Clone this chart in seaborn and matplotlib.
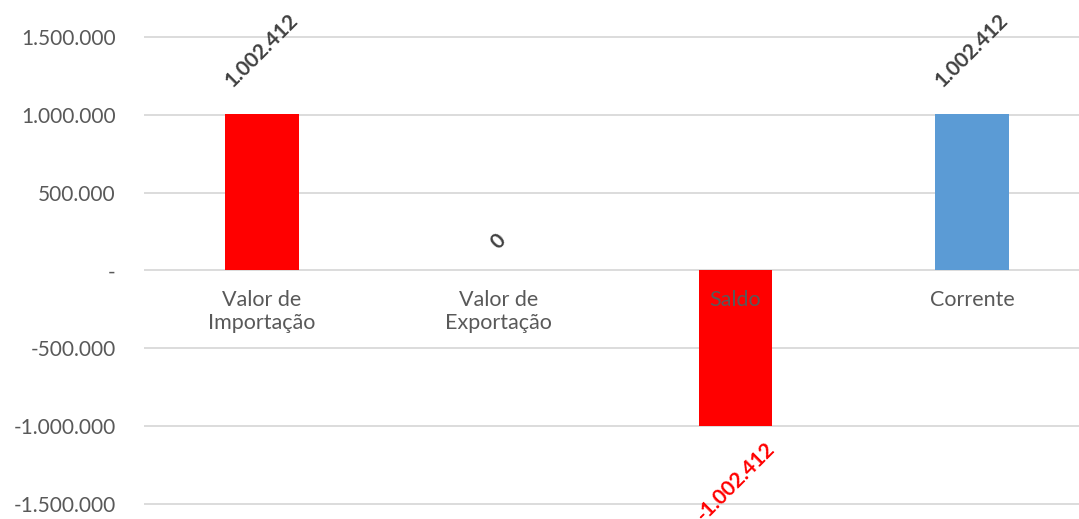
import numpy as np
import matplotlib.pyplot as plt
import seaborn as sns
from matplotlib.ticker import FuncFormatter

categorias = ['Valor de\nImportação', 'Valor de\nExportação', 'Saldo', 'Corrente']
valores = [1002412, 0, -1002412, 1002412]
cores = ['#FF0000', '#FF0000', '#FF0000', '#5B9BD5']
cores_rotulo = ['#404040', '#404040', '#FF0000', '#404040']
yticks = [-1500000, -1000000, -500000, 0, 500000, 1000000, 1500000]


def fmt_br(v, pos=None):
    if v == 0:
        return '-'
    s = f'{abs(v):,.0f}'.replace(',', '.')
    return ('-' if v < 0 else '') + s


sns.set_theme(style='white')
plt.rcParams['font.family'] = ['Lato', 'DejaVu Sans']

fig = plt.figure(figsize=(10.79, 5.19), dpi=100)
ax = fig.add_axes([143.5 / 1079, 0, (1090.5 - 143.5) / 1079, 1])

sns.barplot(x=categorias, y=valores, hue=categorias, palette=cores,
            legend=False, width=0.31, saturation=1, linewidth=0,
            ax=ax, zorder=3)

ax.set_ylim(-1597000, 1738000)
ax.set_xlim(-0.5, 3.5)
ax.set_yticks(yticks)
ax.yaxis.set_major_formatter(FuncFormatter(fmt_br))
ax.tick_params(axis='y', labelsize=15, labelcolor='#595959', length=0, pad=20)
ax.set_xticks([])
ax.set_xlabel('')
ax.set_ylabel('')
for s in ax.spines.values():
    s.set_visible(False)
ax.grid(axis='y', color='#D9D9D9', linewidth=1.3, zorder=0)
ax.set_axisbelow(True)

# rótulos das categorias abaixo da linha do zero
for i, c in enumerate(categorias):
    ax.annotate(c, (i, 0), xytext=(0, -14), textcoords='offset points',
                ha='center', va='top', fontsize=15.5, color='#595959',
                linespacing=1.2, zorder=5)

# rótulos de dados
for i, v in enumerate(valores):
    if v > 0:
        off = 46
    elif v < 0:
        off = -40
    else:
        off = 21
    ax.annotate(fmt_br(v) if v != 0 else '0', (i, v), xytext=(0, off),
                textcoords='offset points', ha='center', va='center',
                rotation=45, fontsize=15, fontweight='bold',
                color=cores_rotulo[i], zorder=6)

fig.savefig('out.png', dpi=100)
